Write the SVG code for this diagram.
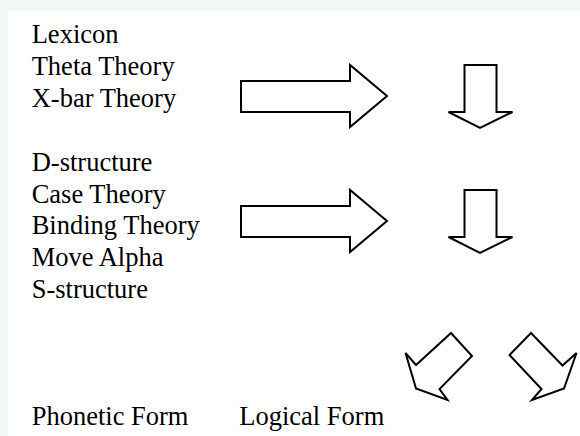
<svg xmlns="http://www.w3.org/2000/svg" width="580" height="436" viewBox="0 0 580 436">
<style>
.a{fill:#fff;stroke:#000;stroke-width:2;stroke-linejoin:miter}
</style>
<rect x="0" y="0" width="580" height="436" fill="#f1f6f7"/>
<rect x="8" y="10" width="572" height="426" fill="#fff"/>
<g id="labels" fill="#000">
<g id="n-lexicon"><text x="31.7" y="43" font-size="26.5" font-family="Liberation Serif">Lexicon</text></g>
<g id="n-theta"><text x="31.7" y="75" font-size="26.5" font-family="Liberation Serif">Theta Theory</text></g>
<g id="n-xbar"><text x="31.7" y="107" font-size="26.5" font-family="Liberation Serif">X-bar Theory</text></g>
<g id="n-dstructure"><text x="31.7" y="170.5" font-size="26.5" font-family="Liberation Serif">D-structure</text></g>
<g id="n-case"><text x="31.7" y="202.5" font-size="26.5" font-family="Liberation Serif">Case Theory</text></g>
<g id="n-binding"><text x="31.7" y="234" font-size="26.5" font-family="Liberation Serif">Binding Theory</text></g>
<g id="n-move"><text x="31.7" y="266" font-size="26.5" font-family="Liberation Serif">Move Alpha</text></g>
<g id="n-sstructure"><text x="31.7" y="297.5" font-size="26.5" font-family="Liberation Serif">S-structure</text></g>
<g id="n-pf"><text x="31.7" y="425" font-size="26.5" font-family="Liberation Serif">Phonetic Form</text></g>
<g id="n-lf"><text x="239.3" y="425" font-size="26.5" font-family="Liberation Serif">Logical Form</text></g>
</g>
<g id="connectors">
<polygon class="a" points="241,81 350,81 350,65 387,96 350,127 350,112 241,112"/>
<polygon class="a" points="241,206 350,206 350,190 387,221 350,252 350,237 241,237"/>
<polygon class="a" points="464.5,65 496.5,65 496.5,112 512.5,112 480,128 448.5,112 464.5,112"/>
<polygon class="a" points="464.5,190 496.5,190 496.5,237 512.5,237 480,253 448.5,237 464.5,237"/>
<polygon class="a" points="451,333 472,356 439.5,389 447.5,400 416,388.5 405.5,353 416,365"/>
<polygon class="a" points="531,333 509.5,355 541.5,389 532,400 564,388.5 576.5,353 562.5,365.5"/>
</g>
</svg>
